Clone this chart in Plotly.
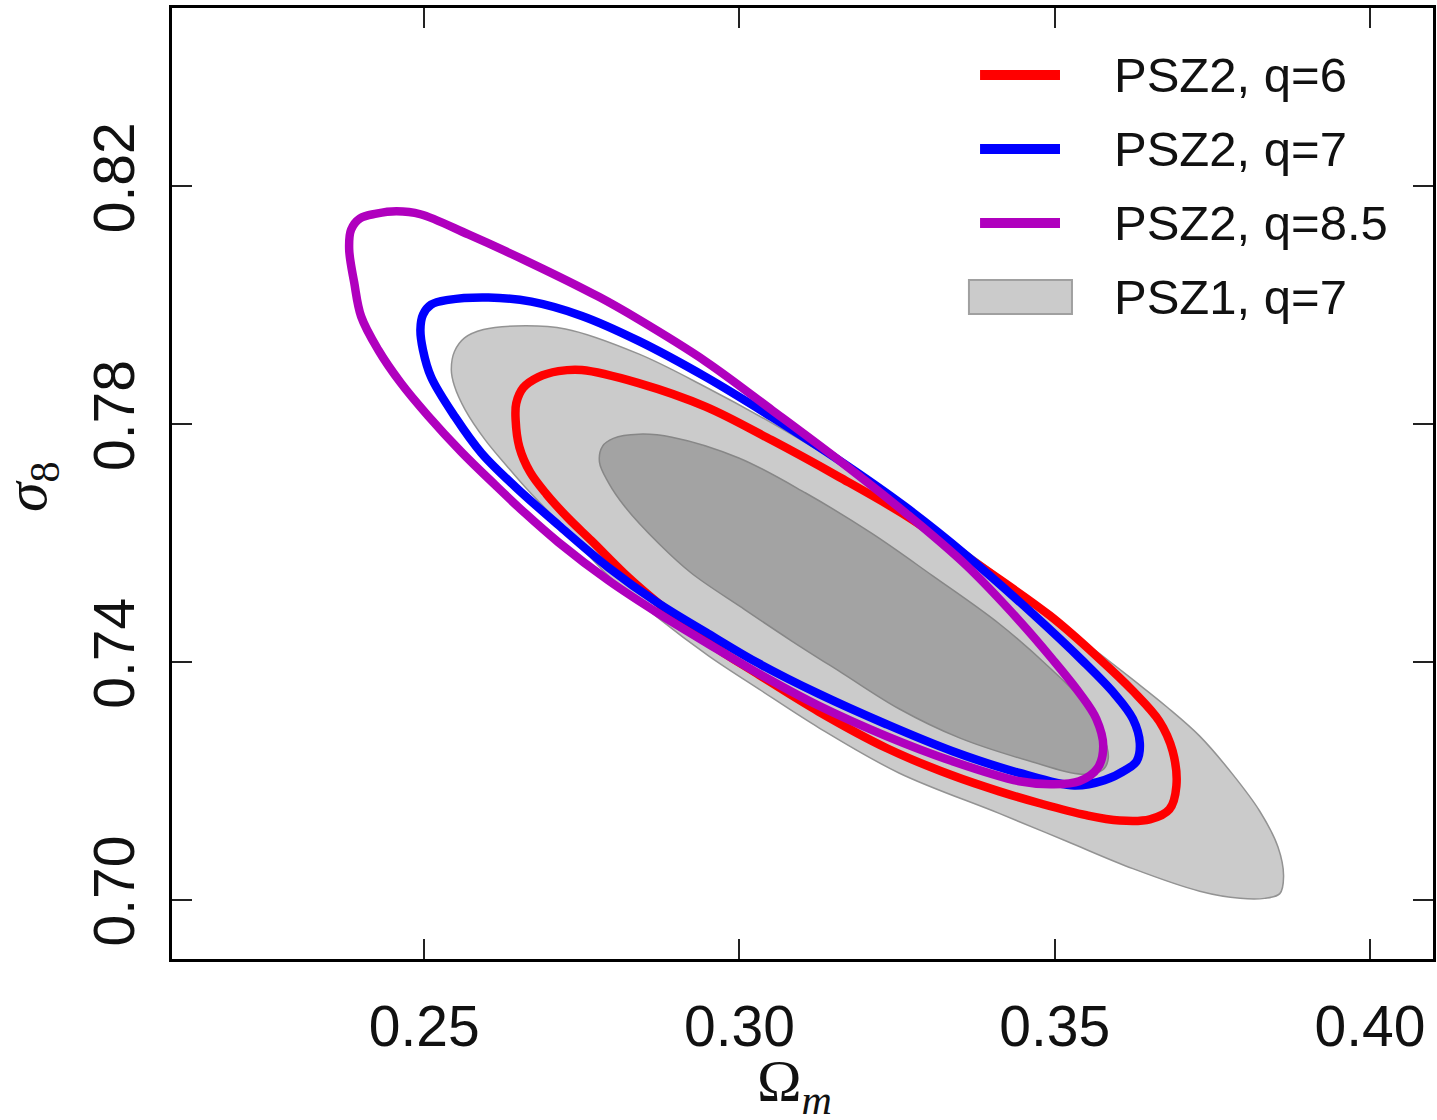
import plotly.graph_objects as go

# Axis ticks
x_ticks = [0.25, 0.30, 0.35, 0.40]
x_tick_text = ["0.25", "0.30", "0.35", "0.40"]
y_ticks = [0.70, 0.74, 0.78, 0.82]
y_tick_text = ["0.70", "0.74", "0.78", "0.82"]

# PSZ1, q=7 : outer (95%) confidence region
psz1_95_om = [0.3051, 0.3158, 0.3264, 0.3360, 0.3465, 0.3519, 0.3571, 0.3624, 0.3678, 0.3730,
              0.3782, 0.3825, 0.3854, 0.3863, 0.3857, 0.3833, 0.3794, 0.3730, 0.3624, 0.3519,
              0.3412, 0.3253, 0.3126, 0.3031, 0.2951, 0.2872, 0.2792, 0.2713, 0.2660, 0.2633,
              0.2597, 0.2565, 0.2548, 0.2543, 0.2548, 0.2564, 0.2594, 0.2645, 0.2724, 0.2840,
              0.2947]
psz1_95_s8 = [0.7802, 0.7734, 0.7658, 0.7586, 0.7503, 0.7457, 0.7414, 0.7370, 0.7324, 0.7275,
              0.7211, 0.7149, 0.7089, 0.7039, 0.7010, 0.7002, 0.7002, 0.7014, 0.7052, 0.7098,
              0.7145, 0.7213, 0.7289, 0.7354, 0.7410, 0.7473, 0.7545, 0.7635, 0.7694, 0.7727,
              0.7773, 0.7824, 0.7864, 0.7891, 0.7922, 0.7945, 0.7959, 0.7965, 0.7960, 0.7918,
              0.7862]

# PSZ1, q=7 : inner (68%) confidence region
psz1_68_om = [0.3210, 0.3306, 0.3412, 0.3492, 0.3544, 0.3576, 0.3585, 0.3576, 0.3542, 0.3460,
              0.3349, 0.3253, 0.3163, 0.3083, 0.3004, 0.2924, 0.2872, 0.2819, 0.2792, 0.2778,
              0.2783, 0.2800, 0.2840, 0.2893, 0.2999, 0.3105]
psz1_68_s8 = [0.7616, 0.7545, 0.7464, 0.7390, 0.7334, 0.7278, 0.7238, 0.7218, 0.7211, 0.7233,
              0.7272, 0.7321, 0.7381, 0.7435, 0.7491, 0.7549, 0.7599, 0.7660, 0.7702, 0.7736,
              0.7763, 0.7776, 0.7783, 0.7778, 0.7743, 0.7684]

# PSZ2, q=6 contour
q6_om = [0.3051, 0.3158, 0.3264, 0.3360, 0.3492, 0.3571, 0.3624, 0.3666, 0.3687, 0.3693,
         0.3682, 0.3651, 0.3603, 0.3550, 0.3476, 0.3412, 0.3337, 0.3233, 0.3126, 0.3031,
         0.2951, 0.2872, 0.2824, 0.2765, 0.2729, 0.2694, 0.2668, 0.2651, 0.2645, 0.2646,
         0.2657, 0.2681, 0.2713, 0.2750, 0.2840, 0.2947]
q6_s8 = [0.7773, 0.7711, 0.7646, 0.7577, 0.7478, 0.7405, 0.7351, 0.7300, 0.7250, 0.7191,
         0.7152, 0.7135, 0.7133, 0.7142, 0.7162, 0.7182, 0.7209, 0.7255, 0.7316, 0.7378,
         0.7432, 0.7498, 0.7542, 0.7604, 0.7641, 0.7682, 0.7719, 0.7761, 0.7807, 0.7835,
         0.7861, 0.7879, 0.7889, 0.7891, 0.7869, 0.7829]

# PSZ2, q=7 contour
q7_om = [0.3051, 0.3158, 0.3264, 0.3360, 0.3465, 0.3544, 0.3595, 0.3624, 0.3635, 0.3630,
         0.3614, 0.3579, 0.3531, 0.3444, 0.3337, 0.3233, 0.3126, 0.3031, 0.2951, 0.2872,
         0.2792, 0.2713, 0.2645, 0.2591, 0.2549, 0.2511, 0.2498, 0.2494, 0.2498, 0.2511,
         0.2538, 0.2602, 0.2670, 0.2750, 0.2840, 0.2947]
q7_s8 = [0.7812, 0.7739, 0.7660, 0.7579, 0.7481, 0.7402, 0.7346, 0.7304, 0.7263, 0.7233,
         0.7219, 0.7201, 0.7192, 0.7213, 0.7250, 0.7295, 0.7346, 0.7397, 0.7447, 0.7498,
         0.7559, 0.7630, 0.7694, 0.7751, 0.7812, 0.7879, 0.7925, 0.7959, 0.7984, 0.8001,
         0.8009, 0.8013, 0.8006, 0.7982, 0.7940, 0.7879]

# PSZ2, q=8.5 contour
q85_om = [0.3051, 0.3158, 0.3264, 0.3360, 0.3444, 0.3496, 0.3539, 0.3566, 0.3577, 0.3568,
          0.3539, 0.3496, 0.3444, 0.3337, 0.3233, 0.3126, 0.3031, 0.2951, 0.2872, 0.2792,
          0.2713, 0.2660, 0.2613, 0.2559, 0.2506, 0.2463, 0.2427, 0.2400, 0.2389, 0.2381,
          0.2384, 0.2398, 0.2424, 0.2456, 0.2494, 0.2570, 0.2665, 0.2777, 0.2840, 0.2947]
q85_s8 = [0.7824, 0.7739, 0.7650, 0.7562, 0.7469, 0.7405, 0.7348, 0.7304, 0.7258, 0.7221,
          0.7199, 0.7194, 0.7199, 0.7233, 0.7275, 0.7326, 0.7380, 0.7430, 0.7481, 0.7537,
          0.7601, 0.7650, 0.7697, 0.7753, 0.7814, 0.7869, 0.7925, 0.7981, 0.8038, 0.8094,
          0.8127, 0.8146, 0.8154, 0.8158, 0.8153, 0.8119, 0.8073, 0.8014, 0.7976, 0.7905]

labels = ["PSZ2, q=6", "PSZ2, q=7", "PSZ2, q=8.5", "PSZ1, q=7"]
colors = ["#ff0000", "#0000ff", "#b000be"]

SANS = "Liberation Sans, Arial, Helvetica, sans-serif"
SERIF = "Liberation Serif, Times New Roman, serif"


def closed(seq):
    return list(seq) + [seq[0]]


fig = go.Figure()

# filled PSZ1 regions
fig.add_trace(go.Scatter(
    x=closed(psz1_95_om), y=closed(psz1_95_s8), mode="lines", fill="toself",
    fillcolor="#cbcbcb", line=dict(color="#939393", width=1.5, shape="spline", smoothing=1.0),
    hoverinfo="skip", showlegend=False))
fig.add_trace(go.Scatter(
    x=closed(psz1_68_om), y=closed(psz1_68_s8), mode="lines", fill="toself",
    fillcolor="#a3a3a3", line=dict(color="#878787", width=1.5, shape="spline", smoothing=1.0),
    hoverinfo="skip", showlegend=False))

# PSZ2 contour lines
for om, s8, col in [(q6_om, q6_s8, colors[0]), (q7_om, q7_s8, colors[1]), (q85_om, q85_s8, colors[2])]:
    fig.add_trace(go.Scatter(
        x=closed(om), y=closed(s8), mode="lines",
        line=dict(color=col, width=8.5, shape="spline", smoothing=1.0),
        hoverinfo="skip", showlegend=False))

# hand-placed legend in the upper right corner of the axes
shapes = []
annotations = []
row_y = [0.9295, 0.8517, 0.7739, 0.6961]
for i in range(3):
    shapes.append(dict(type="line", xref="paper", yref="paper",
                       x0=0.6408, x1=0.7042, y0=row_y[i], y1=row_y[i],
                       line=dict(color=colors[i], width=10)))
shapes.append(dict(type="rect", xref="paper", yref="paper",
                   x0=0.6320, x1=0.7137, y0=row_y[3] - 0.0179, y1=row_y[3] + 0.0179,
                   fillcolor="#cbcbcb", line=dict(color="#a0a0a0", width=2)))
for i, lab in enumerate(labels):
    annotations.append(dict(text=lab, xref="paper", yref="paper", x=0.7454, y=row_y[i],
                            xanchor="left", yanchor="middle", showarrow=False,
                            font=dict(family=SANS, size=49, color="#111111")))

# axis titles
annotations.append(dict(text="Ω<sub><i>m</i></sub>", xref="paper", yref="paper",
                        x=0.4933, y=-0.091, xanchor="center", yanchor="top", showarrow=False,
                        font=dict(family=SERIF, size=60, color="#111111")))
annotations.append(dict(text="<i>σ</i><sub>8</sub>", xref="paper", yref="paper",
                        x=-0.1126, y=0.4963, xanchor="center", yanchor="middle", showarrow=False,
                        textangle=-90, font=dict(family=SERIF, size=60, color="#111111")))

fig.update_layout(
    width=1437, height=1120,
    margin=dict(l=172, r=4, t=8, b=161),
    plot_bgcolor="white", paper_bgcolor="white",
    showlegend=False,
    shapes=shapes, annotations=annotations,
    xaxis=dict(
        range=[0.21, 0.41], tickvals=x_ticks, ticktext=x_tick_text,
        ticks="inside", ticklen=20, tickwidth=2, tickcolor="#222222",
        showline=True, linewidth=3, linecolor="black", mirror="ticks",
        showgrid=False, zeroline=False, automargin=False,
        tickfont=dict(family=SANS, size=57, color="#111111"),
        ticklabelstandoff=16,
    ),
    yaxis=dict(
        range=[0.69, 0.85], tickvals=y_ticks, ticktext=y_tick_text,
        ticks="inside", ticklen=20, tickwidth=2, tickcolor="#222222",
        showline=True, linewidth=3, linecolor="black", mirror="ticks",
        showgrid=False, zeroline=False, automargin=False,
        tickangle=-90,
        tickfont=dict(family=SANS, size=57, color="#111111"),
        ticklabelstandoff=12,
    ),
)

fig.write_html("out.html")
